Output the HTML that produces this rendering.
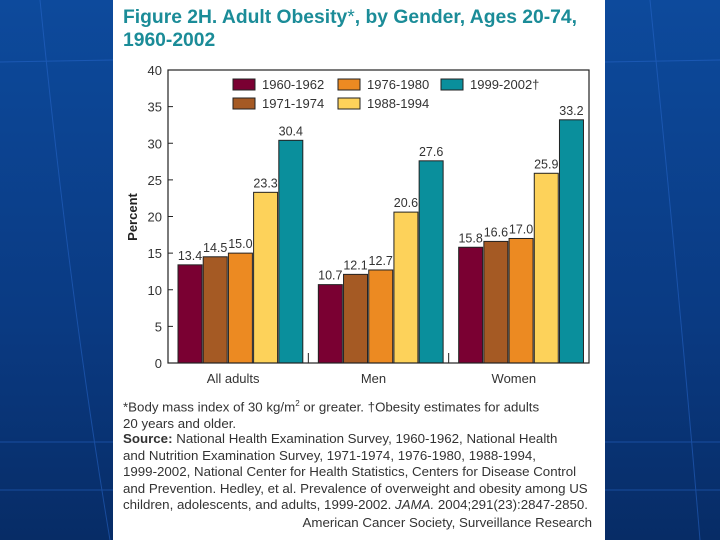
<!DOCTYPE html>
<html><head><meta charset="utf-8"><style>
body{margin:0;width:720px;height:540px;overflow:hidden;background:linear-gradient(180deg,#0d4a9c 0%,#0a3a82 60%,#072c66 100%);font-family:"Liberation Sans",sans-serif;position:relative}
#panel{position:absolute;left:113px;top:0;width:492px;height:540px;background:#fff}
.t{position:absolute;font-size:13.3px;color:#333;white-space:nowrap}
</style></head><body>
<svg width="720" height="540" style="position:absolute;left:0;top:0">
<g stroke="#2a6ad0" stroke-width="1" opacity="0.5" fill="none">
<line x1="0" y1="62" x2="113" y2="60"/><line x1="0" y1="442" x2="113" y2="442"/><line x1="0" y1="490" x2="113" y2="490"/>
<line x1="605" y1="62" x2="720" y2="60"/><line x1="605" y1="442" x2="720" y2="442"/><line x1="605" y1="490" x2="720" y2="490"/>
<path d="M40 0 Q70 300 110 540"/><path d="M650 0 Q680 300 700 540"/>
</g></svg>
<div id="panel"></div>
<div class="t" style="left:123px;top:6px;font-size:19.3px;font-weight:bold;color:#1b8c98;line-height:23px">Figure 2H. Adult Obesity<span style="font-weight:normal">*</span>, by Gender, Ages 20-74,<br>1960-2002</div>
<svg id="chart" width="720" height="540" style="position:absolute;left:0;top:0" font-family="Liberation Sans, sans-serif"></svg>
<div class="t" style="left:123px;top:396px;line-height:16.5px">*Body mass index of 30 kg/m<sup style="font-size:8px">2</sup> or greater. †Obesity estimates for adults<br>20 years and older.</div>
<div class="t" style="left:123px;top:431px;line-height:16.6px"><b>Source:</b> National Health Examination Survey, 1960-1962, National Health<br>and Nutrition Examination Survey, 1971-1974, 1976-1980, 1988-1994,<br>1999-2002, National Center for Health Statistics, Centers for Disease Control<br>and Prevention. Hedley, et al. Prevalence of overweight and obesity among US<br>children, adolescents, and adults, 1999-2002. <i>JAMA.</i> 2004;291(23):2847-2850.</div>
<div class="t" style="right:128px;top:515px">American Cancer Society, Surveillance Research</div>
<script>
const categories=["All adults","Men","Women"];
const seriesNames=["1960-1962","1971-1974","1976-1980","1988-1994","1999-2002†"];
const s1960=[13.4,10.7,15.8];
const s1971=[14.5,12.1,16.6];
const s1976=[15.0,12.7,17.0];
const s1988=[23.3,20.6,25.9];
const s1999=[30.4,27.6,33.2];
const yTicks=[0,5,10,15,20,25,30,35,40];
const series=[s1960,s1971,s1976,s1988,s1999];
const colors=["#7a0032","#a55a24","#ec8a22","#fdd25a","#0a8f9c"];
const NS="http://www.w3.org/2000/svg";
const svg=document.getElementById('chart');
const X0=168,X1=589,Y0=363,Y1=70;
const y=v=>Y0-(v/40)*(Y0-Y1);
const groupW=(X1-X0)/categories.length;
const x=(g,i)=>X0+10+g*groupW+i*25.2;
function mk(tag,attrs,text){const e=document.createElementNS(NS,tag);for(const k in attrs)e.setAttribute(k,attrs[k]);if(text!==undefined)e.textContent=text;svg.appendChild(e);return e;}
yTicks.forEach(v=>{
 const t=mk('text',{x:162,y:y(v)+5,'text-anchor':'end','font-size':13,fill:'#333'},v);
 
 
 if(v>0&&v<40){const l=mk('line',{x1:X0,x2:X0+5,y1:y(v),y2:y(v),stroke:'#222'});
 
 }
});
const yt=mk('text',{transform:'translate(137,217) rotate(-90)','text-anchor':'middle','font-size':13,'font-weight':'bold',fill:'#222'},'Percent');


series.forEach((s,i)=>s.forEach((v,g)=>{
 const r=mk('rect',{x:x(g,i),y:y(v),width:24,height:Y0-y(v),fill:colors[i],stroke:'#222','stroke-width':1});
 
 
 const t=mk('text',{x:x(g,i)+12,y:y(v)-5,'text-anchor':'middle','font-size':12.5,fill:'#333'},v.toFixed(1));
 
 
}));
categories.forEach((c,g)=>{
 const t=mk('text',{x:X0+g*groupW+groupW/2-5,y:383,'text-anchor':'middle','font-size':13,fill:'#333'},c);
 
 
 if(g>0){const l=mk('line',{x1:X0+g*groupW,x2:X0+g*groupW,y1:Y0,y2:Y0-10,stroke:'#222'});
 
 }
});
const fr=mk('rect',{x:X0,y:Y1,width:X1-X0,height:Y0-Y1,fill:'none',stroke:'#222','stroke-width':1.2});


const legPos=[[233,79],[233,98],[338,79],[338,98],[441,79]];
seriesNames.forEach((n,i)=>{
 const [lx,ly]=legPos[i];
 const r=mk('rect',{x:lx,y:ly,width:22,height:11,fill:colors[i],stroke:'#222'});
 
 
 const t=mk('text',{x:lx+29,y:ly+10,'font-size':13,fill:'#333'},n);
 
 
});
</script>
</body></html>
